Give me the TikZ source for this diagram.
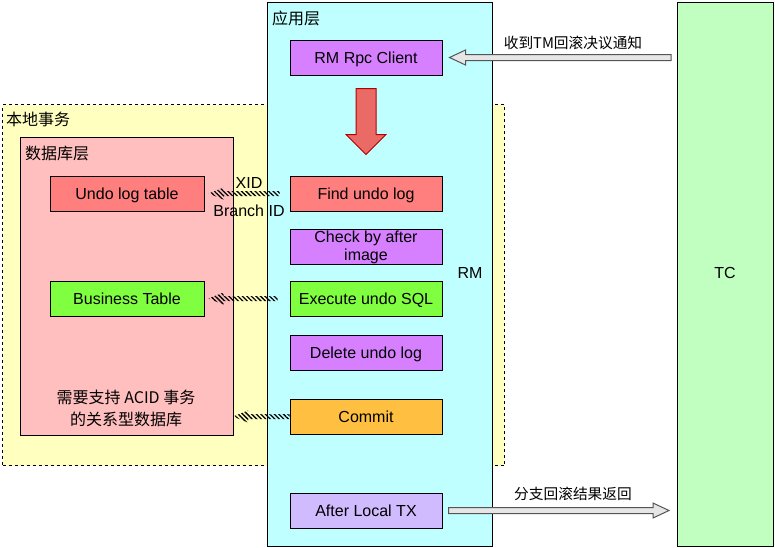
\documentclass[tikz,border=0pt]{standalone}
\usepackage{fontspec}
\setmainfont{Liberation Sans}
\newfontfamily\cjk{Noto Sans CJK SC}
\usetikzlibrary{calc,patterns.meta}
\definecolor{appc}{HTML}{C0FFFF}
\definecolor{tcc}{HTML}{C0FFC0}
\definecolor{locc}{HTML}{FFFFC0}
\definecolor{dbc}{HTML}{FFBFBF}
\definecolor{purc}{HTML}{D680FF}
\definecolor{redc}{HTML}{FF7F7F}
\definecolor{grnc}{HTML}{80FF40}
\definecolor{orgc}{HTML}{FFBF40}
\definecolor{lavc}{HTML}{D0BBFF}
\definecolor{arrred}{HTML}{EA6B66}
\definecolor{arrredd}{HTML}{B20000}
\definecolor{arrgray}{HTML}{E6E6E6}
\definecolor{arrgrayd}{HTML}{555555}
\tikzset{
  container/.style={draw=black, line width=1pt, anchor=north west, inner sep=0pt},
  stepbox/.style={draw=black, line width=1pt, minimum width=152pt, minimum height=35pt,
    inner sep=0pt, align=center, font=\fontsize{16}{18}\selectfont,
    text height=11.6pt, text depth=0pt},
  twoline/.style={text height=, text depth=, yshift=-1.5pt},
  dbbox/.style={stepbox, minimum width=154pt},
  lbl/.style={inner sep=0pt, font=\fontsize{16}{18}\selectfont},
  cjklbl/.style={inner sep=0pt, font=\cjk\fontsize{16}{22}\selectfont, align=center},
  edgecjk/.style={inner sep=0pt, font=\cjk\fontsize{14.7}{18}\selectfont},
  hatch/.style={pattern={Lines[angle=-45,distance=3.2pt,line width=1.3pt]}, pattern color=black},
  blockarr/.style={fill=arrgray, draw=arrgrayd, line width=1pt, line join=miter},
}
\newcommand{\leftarrowshape}[6]{% style, tail, tip, body half, head length, head half
  \path[#1] ($#2+(0,-#4)$) -- ($#3+(#5,-#4)$) -- ($#3+(#5,-#6)$) -- #3 --
    ($#3+(#5,#6)$) -- ($#3+(#5,#4)$) -- ($#2+(0,#4)$) -- cycle;}
\newcommand{\rightarrowshape}[6]{%
  \path[#1] ($#2+(0,-#4)$) -- ($#3+(-#5,-#4)$) -- ($#3+(-#5,-#6)$) -- #3 --
    ($#3+(-#5,#6)$) -- ($#3+(-#5,#4)$) -- ($#2+(0,#4)$) -- cycle;}
\begin{document}
\begin{tikzpicture}[x=1pt,y=-1pt]
\useasboundingbox (0,0) rectangle (775,547);
% containers
\node[container, fill=locc, dashed, minimum width=502pt, minimum height=361pt] (local) at (2,104) {};
\node[container, fill=dbc, minimum width=213pt, minimum height=298pt] (db) at (20,137) {};
\node[container, fill=appc, minimum width=225pt, minimum height=544pt] (app) at (267,2) {};
\node[container, fill=tcc, minimum width=96pt, minimum height=544pt] (tc) at (677,2) {};
% container labels
\node[cjklbl, anchor=west] (applbl) at (272,18) {应用层};
\node[cjklbl, anchor=west] (loclbl) at (6,119) {本地事务};
\node[cjklbl, anchor=west] (dblbl) at (25,153) {数据库层};
\node[lbl] (rm) at (470,273) {RM};
\node[lbl] (tclbl) at (725,273) {TC};
\node[cjklbl] (acid) at (126,408) {需要支持 ACID 事务\\的关系型数据库};
% steps
\node[stepbox, fill=purc] (rpc) at (366,57.5) {RM Rpc Client};
\node[stepbox, fill=redc] (find) at (366,193.5) {Find undo log};
\node[stepbox, twoline, fill=purc] (check) at (366,245.5) {Check by after\\image};
\node[stepbox, fill=grnc] (exec) at (366,298.5) {Execute undo SQL};
\node[stepbox, fill=purc] (del) at (366,352.5) {Delete undo log};
\node[stepbox, fill=orgc] (commit) at (366,416.5) {Commit};
\node[stepbox, fill=lavc] (after) at (366,510.5) {After Local TX};
% db tables
\node[dbbox, fill=redc] (undo) at (127,193.5) {Undo log table};
\node[dbbox, fill=grnc] (biz) at (127,298.5) {Business Table};
% red down arrow
\path[fill=arrred, draw=arrredd, line width=1pt, line join=miter]
  ($(rpc.south)+(-10,13)$) -- ($(find.north)+(-10,-41)$) -- ($(find.north)+(-20,-41)$) --
  ($(find.north)+(0,-21)$) -- ($(find.north)+(20,-41)$) -- ($(find.north)+(10,-41)$) --
  ($(rpc.south)+(10,13)$) -- cycle;
% hatched arrows
\leftarrowshape{hatch}{($(find.west)+(-10,0)$)}{($(undo.east)+(4,0)$)}{2.5}{15}{6}
\leftarrowshape{hatch}{($(exec.west)+(-12,0)$)}{($(biz.east)+(4,0)$)}{2.5}{15}{6}
\leftarrowshape{hatch}{($(commit.west)+(0,0)$)}{($(db.east |- commit.west)+(-1,0)$)}{2.5}{15}{6}
\node[lbl] (xid) at (249,183) {XID};
\node[lbl] (bid) at (249,211) {Branch ID};
% block arrows with TC
\leftarrowshape{blockarr}{($(tc.west |- rpc.east)+(-6,0)$)}{($(rpc.east)+(7,0)$)}{3}{16}{7.5}
\rightarrowshape{blockarr}{($(after.east)+(6,0)$)}{($(tc.west |- after.east)+(-8,0)$)}{3}{16}{7.5}
\node[edgecjk] (l1) at (573,43) {收到TM回滚决议通知};
\node[edgecjk] (l2) at (573,494) {分支回滚结果返回};
\end{tikzpicture}
\end{document}
